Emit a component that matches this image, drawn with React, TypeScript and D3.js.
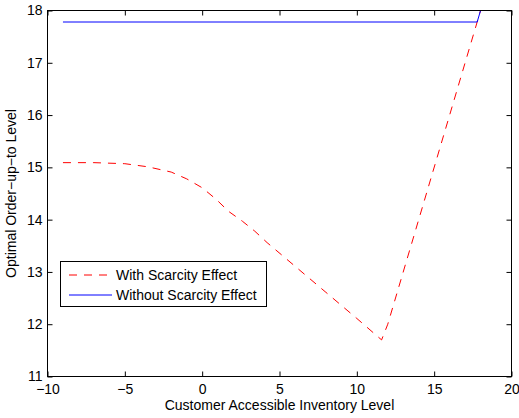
import React, { useEffect, useRef } from 'react';
import * as d3 from 'd3';

// Customer accessible inventory level vs optimal order-up-to level
const scarcityX = [-9, -7, -5, -3.5, -2, -1, 0, 0.9, 1.7, 2.6, 3.4, 4.2, 6, 8, 10, 11.6, 12, 14, 16, 18];
const scarcityY = [15.09, 15.09, 15.07, 15.01, 14.91, 14.78, 14.61, 14.39, 14.16, 13.97, 13.78, 13.56, 13.11, 12.61, 12.11, 11.7, 12, 14, 16, 18];

const noScarcityX = [-9, 17.78, 18];
const noScarcityY = [17.78, 17.78, 18];

const xTicks = [-10, -5, 0, 5, 10, 15, 20];
const yTicks = [11, 12, 13, 14, 15, 16, 17, 18];
const legendLabels = ['With Scarcity Effect', 'Without Scarcity Effect'];

const App = () => {
  const chartRef = useRef<SVGSVGElement | null>(null);

  useEffect(() => {
    const font = 'Liberation Sans, Arial, Helvetica, sans-serif';
    const left = 47.5, right = 511.5, top = 10.5, bottom = 376.5;

    const svg = d3.select(chartRef.current);
    svg.selectAll('*').remove();
    svg.attr('width', 519).attr('height', 418)
      .style('font-family', font);

    const x = d3.scaleLinear().domain([-10, 20]).range([left, right]);
    const y = d3.scaleLinear().domain([11, 18]).range([bottom, top]);

    svg.append('rect')
      .attr('width', 519).attr('height', 418).attr('fill', '#fff');

    svg.append('defs').append('clipPath').attr('id', 'plotClip')
      .append('rect')
      .attr('x', left).attr('y', top)
      .attr('width', right - left).attr('height', bottom - top);

    // lines
    const line = d3.line<[number, number]>()
      .x(d => x(d[0]))
      .y(d => y(d[1]));

    const plot = svg.append('g').attr('clip-path', 'url(#plotClip)');

    plot.append('path')
      .datum(scarcityX.map((v, i) => [v, scarcityY[i]] as [number, number]))
      .attr('fill', 'none')
      .attr('stroke', '#ff0000')
      .attr('stroke-width', 1)
      .attr('stroke-dasharray', '8,7')
      .attr('d', line);

    plot.append('path')
      .datum(noScarcityX.map((v, i) => [v, noScarcityY[i]] as [number, number]))
      .attr('fill', 'none')
      .attr('stroke', '#0000ff')
      .attr('stroke-width', 1)
      .attr('d', line);

    // axes, ticks pointing inward on all four sides
    const styleAxis = (g: any) => {
      g.select('.domain').remove();
      g.selectAll('line').attr('stroke', '#000');
      g.selectAll('text').attr('fill', '#000').style('font-size', '14px').style('font-family', font);
    };

    svg.append('g')
      .attr('transform', `translate(0,${bottom})`)
      .call(d3.axisBottom(x).tickValues(xTicks).tickSizeInner(-5).tickSizeOuter(0).tickPadding(8))
      .call(styleAxis);

    svg.append('g')
      .attr('transform', `translate(0,${top})`)
      .call(d3.axisTop(x).tickValues(xTicks).tickSizeInner(-5).tickSizeOuter(0).tickFormat(() => ''))
      .call(styleAxis);

    svg.append('g')
      .attr('transform', `translate(${left},0)`)
      .call(d3.axisLeft(y).tickValues(yTicks).tickFormat(d3.format('d')).tickSizeInner(-5).tickSizeOuter(0).tickPadding(5))
      .call(styleAxis);

    svg.append('g')
      .attr('transform', `translate(${right},0)`)
      .call(d3.axisRight(y).tickValues(yTicks).tickSizeInner(-5).tickSizeOuter(0).tickFormat(() => ''))
      .call(styleAxis);

    svg.append('rect')
      .attr('x', left).attr('y', top)
      .attr('width', right - left).attr('height', bottom - top)
      .attr('fill', 'none')
      .attr('stroke', '#000')
      .attr('stroke-width', 1);

    // axis labels
    svg.append('text')
      .attr('x', (left + right) / 2)
      .attr('y', 410)
      .attr('text-anchor', 'middle')
      .style('font-size', '14px')
      .text('Customer Accessible Inventory Level');

    svg.append('text')
      .attr('transform', `translate(16,${(top + bottom) / 2}) rotate(-90)`)
      .attr('text-anchor', 'middle')
      .style('font-size', '14px')
      .text('Optimal Order\u2212up\u2212to Level');

    // legend
    const legend = svg.append('g').attr('transform', 'translate(60.5,261.5)');
    legend.append('rect')
      .attr('width', 206).attr('height', 45)
      .attr('fill', '#fff').attr('stroke', '#000').attr('stroke-width', 1);

    const colors = ['#ff0000', '#0000ff'];
    const dashes = ['8,7', null];
    legendLabels.forEach((label, i) => {
      const cy = 13.5 + i * 20;
      legend.append('line')
        .attr('x1', 8.5).attr('x2', 51.5)
        .attr('y1', cy).attr('y2', cy)
        .attr('stroke', colors[i])
        .attr('stroke-width', 1)
        .attr('stroke-dasharray', dashes[i]);
      legend.append('text')
        .attr('x', 55.5)
        .attr('y', cy + 5)
        .style('font-size', '14px')
        .text(label);
    });
  }, []);

  return (
    <svg ref={chartRef} style={{ position: 'absolute', left: 0, top: 0 }}></svg>
  );
};

export default App;
